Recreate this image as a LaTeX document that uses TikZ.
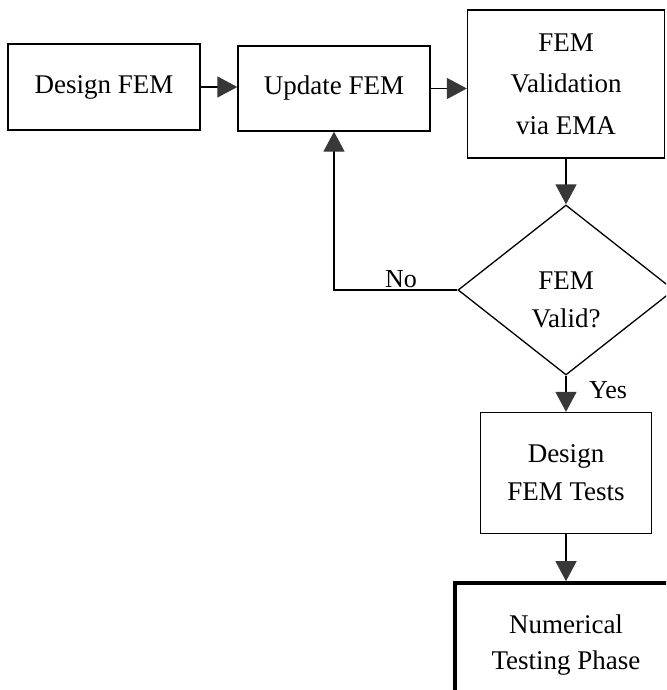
\documentclass[tikz,border=0pt]{standalone}
\usepackage{fontspec}
\setmainfont{Liberation Serif}
\usetikzlibrary{arrows.meta,shapes.geometric}
\begin{document}
\begin{tikzpicture}[x=1pt,y=-1pt,
  every node/.style={font=\fontsize{27}{38}\selectfont, align=center, inner sep=0pt},
  box/.style={draw=black, line width=1.3pt, fill=white},
  thickbox/.style={draw=black, line width=3.6pt, fill=white},
  decision/.style={draw=black, line width=1.3pt, shape=diamond, fill=white},
  arr/.style={draw=black, line width=1.3pt,
    -{Triangle[length=20pt,width=21pt,color=black!78]}},
  lbl/.style={font=\fontsize{26}{30}\selectfont}]
  \useasboundingbox (0,0) rectangle (666,690);
  \clip (0,0) rectangle (666,690);

  % process boxes
  \node[box, minimum width=192pt, minimum height=86pt] (design) at (104,87) {Design FEM};
  \node[box, minimum width=192pt, minimum height=85pt] (update) at (334,88.5) {Update FEM};
  \node[box, minimum width=197pt, minimum height=148pt,
        font=\fontsize{27}{41.5}\selectfont] (valid) at (566,84) {FEM\\Validation\\via EMA};
  \node[decision, minimum width=216pt, minimum height=170pt] (dia) at (566,290) {};
  \node (diatext) at (566,300) {FEM\\Valid?};
  \node[box, minimum width=171pt, minimum height=121pt] (tests) at (566,473) {Design\\FEM Tests};
  \node[thickbox, minimum width=222pt, minimum height=124pt,
        font=\fontsize{27}{36}\selectfont] (numer) at (566,645) {Numerical\\Testing Phase};

  % connectors
  \draw[arr] (design.east) -- (design.east -| update.west);
  \draw[arr] (update.east) -- (update.east -| valid.west);
  \draw[arr] (valid.south) -- (dia.north);
  \draw[arr] (dia.west) -| (update.south);
  \draw[arr] (dia.south) -- (tests.north);
  \draw[arr] (tests.south) -- (numer.north);

  % branch labels
  \node[lbl] (nolbl) at (401,279) {No};
  \node[lbl] (yeslbl) at (608,390) {Yes};
\end{tikzpicture}
\end{document}
